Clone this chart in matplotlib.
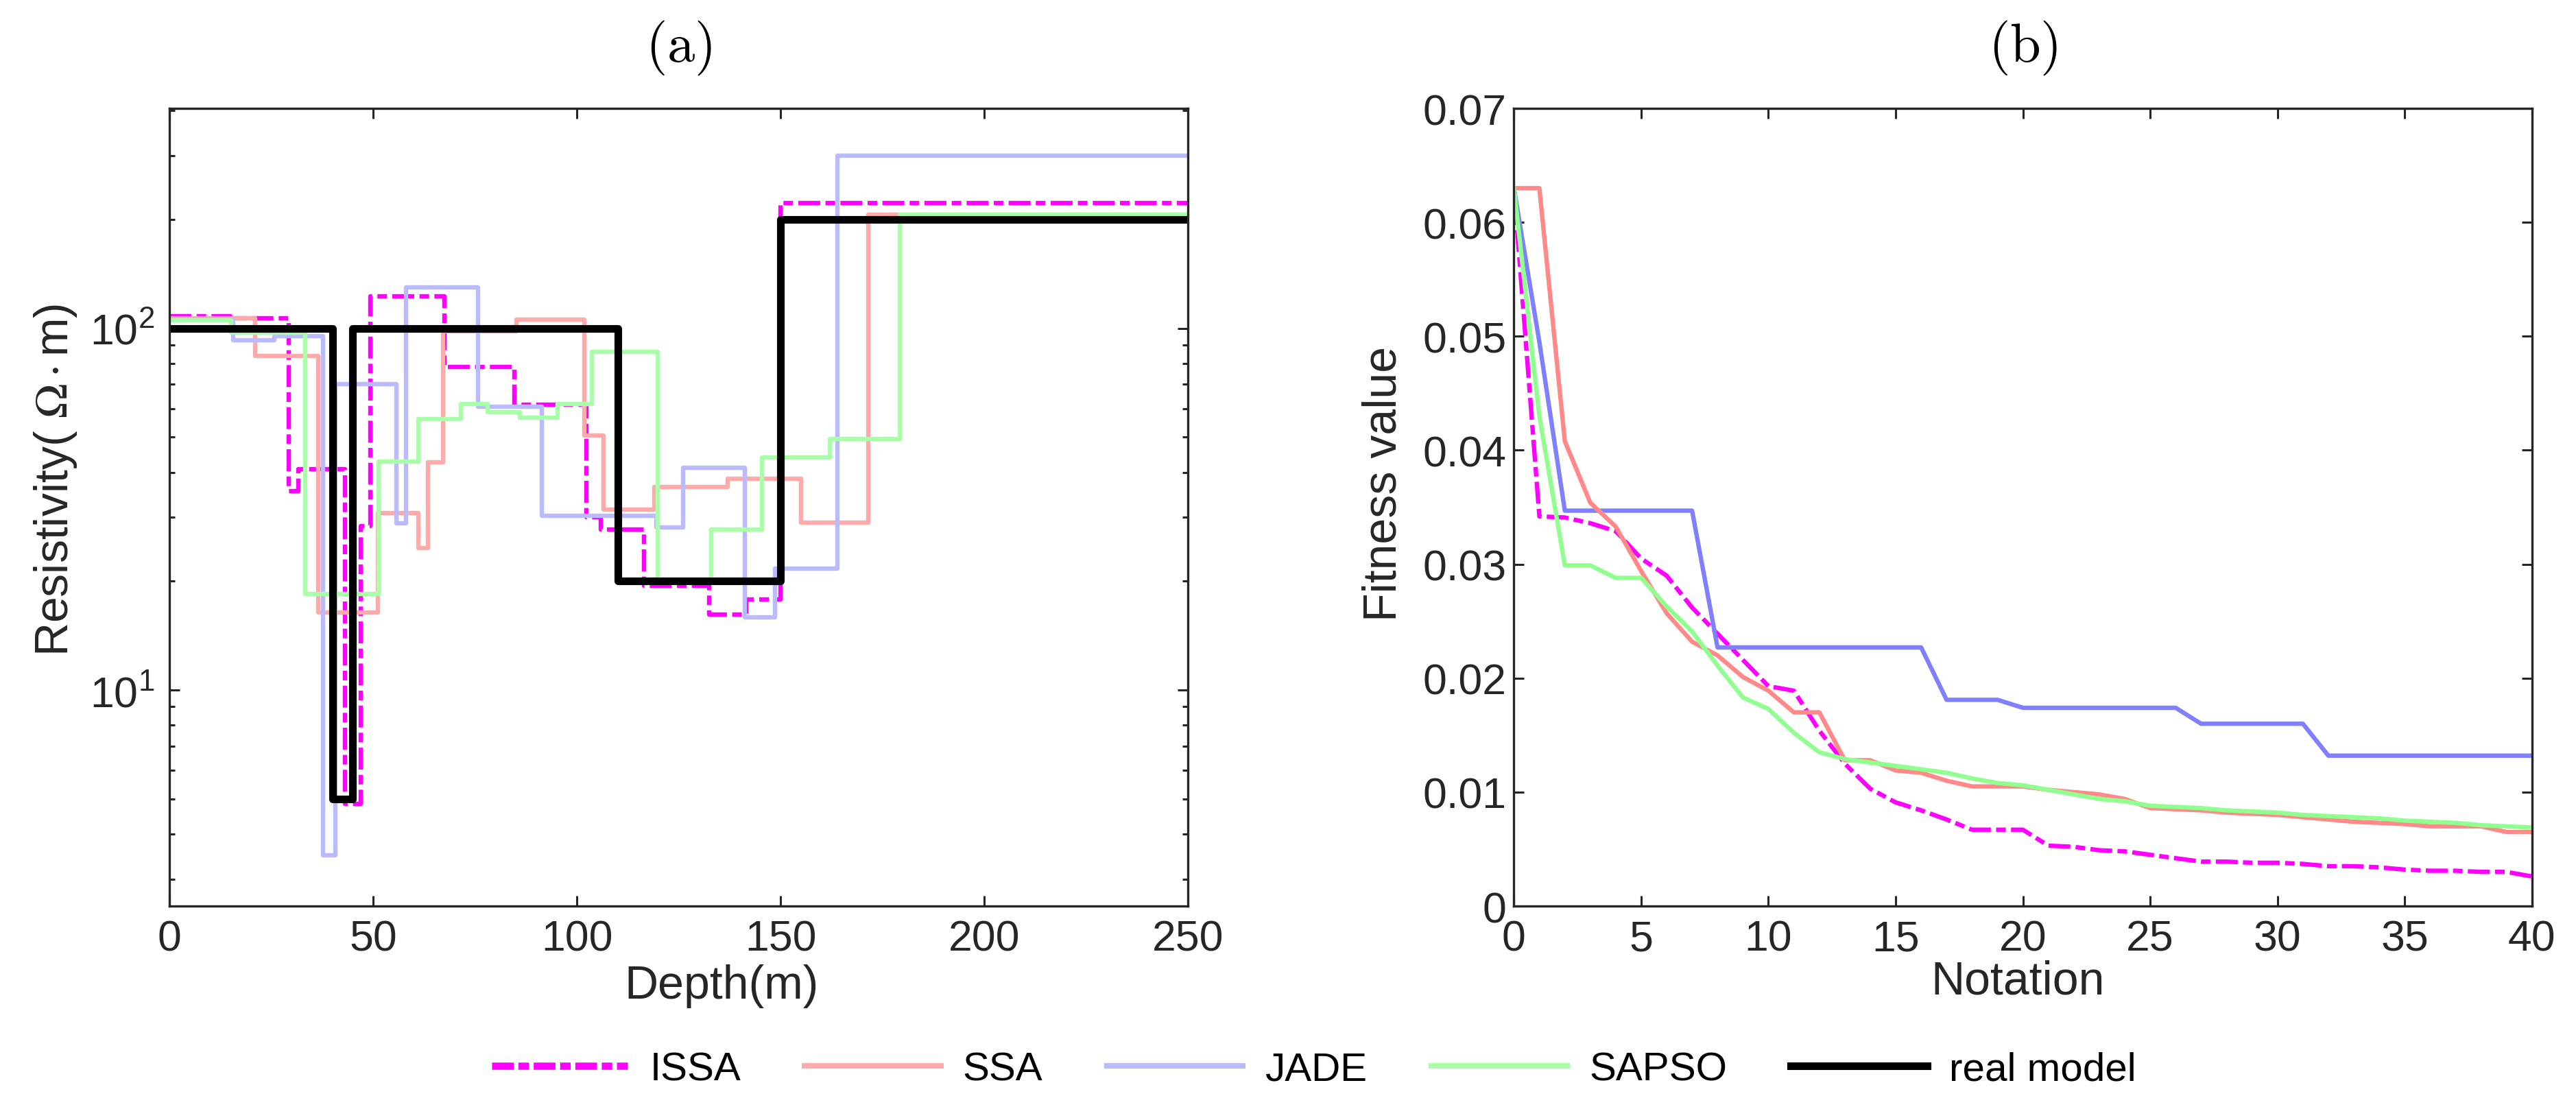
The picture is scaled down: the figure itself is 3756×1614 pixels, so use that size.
import matplotlib
matplotlib.use('Agg')
import matplotlib.pyplot as plt
from matplotlib.ticker import FixedLocator, FixedFormatter, NullFormatter, LogLocator

plt.rcParams['font.family'] = ['Liberation Sans', 'DejaVu Sans']
plt.rcParams['axes.unicode_minus'] = False

# ---------------- data: panel (a) layered models ----------------
issa_depth = [0, 15, 29.3, 31.6, 43, 47, 49.3, 67.5, 84.7, 102.3, 105.8, 116.5, 132.5, 141.5, 150, 250]
issa_rho = [108, 106.5, 35.5, 40.8, 4.85, 28.4, 122.5, 78, 61.5, 30, 27.8, 19.4, 16.2, 17.8, 222, 222]

ssa_depth = [0, 21, 36.5, 51.2, 61, 63.5, 67.2, 85.2, 101.8, 106.5, 119, 137, 155, 171.5, 250]
ssa_rho = [106.5, 83.7, 16.4, 30.8, 24.7, 42.6, 98, 105.5, 50.5, 31.6, 36.4, 38.4, 29.0, 206, 206]

jade_depth = [0, 15.6, 25.8, 37.7, 40.7, 55.7, 58, 75.7, 91.4, 119.5, 126, 141.2, 148.6, 164, 250]
jade_rho = [105.5, 92.8, 95, 3.5, 70.2, 28.9, 129.5, 60.8, 30.3, 28.1, 41.1, 15.9, 21.7, 300, 300]

sapso_depth = [0, 15.1, 33.3, 51.3, 61.1, 71.6, 78, 86, 95.3, 103.7, 119.8, 133, 145.5, 162, 179.2, 250]
sapso_rho = [105, 97.3, 18.4, 42.8, 56, 61.8, 58.7, 56.6, 61.7, 86.2, 20.2, 27.8, 44.0, 49.5, 206, 206]

real_depth = [0, 40, 45, 110, 150, 250]
real_rho = [100, 5, 100, 20, 200, 200]

# ---------------- data: panel (b) convergence curves ----------------
notation = list(range(0, 41))
issa_fit = [0.0630, 0.0342, 0.0341, 0.0336, 0.0329, 0.0305, 0.0290, 0.0262, 0.0239, 0.0216,
            0.0193, 0.0189, 0.0154, 0.0125, 0.0103, 0.0091, 0.0084, 0.0076, 0.0067, 0.0067,
            0.0067, 0.0053, 0.0052, 0.0049, 0.0048, 0.0045, 0.0042, 0.0039, 0.0039, 0.0038,
            0.0038, 0.0037, 0.0035, 0.0035, 0.0034, 0.0032, 0.0031, 0.0031, 0.0030, 0.0030,
            0.0026]
ssa_fit = [0.0630, 0.0630, 0.0408, 0.0354, 0.0333, 0.0294, 0.0257, 0.0232, 0.0220, 0.0201,
           0.0189, 0.0170, 0.0170, 0.0128, 0.0128, 0.0119, 0.0117, 0.0110, 0.0105, 0.0105,
           0.0105, 0.0102, 0.0100, 0.0098, 0.0094, 0.0086, 0.0085, 0.0084, 0.0082, 0.0081,
           0.0080, 0.0078, 0.0076, 0.0074, 0.0073, 0.0072, 0.0070, 0.0070, 0.0070, 0.0065,
           0.0065]
jade_fit = [0.0630, 0.0495, 0.0347, 0.0347, 0.0347, 0.0347, 0.0347, 0.0347, 0.0227, 0.0227,
            0.0227, 0.0227, 0.0227, 0.0227, 0.0227, 0.0227, 0.0227, 0.0181, 0.0181, 0.0181,
            0.0174, 0.0174, 0.0174, 0.0174, 0.0174, 0.0174, 0.0174, 0.0160, 0.0160, 0.0160,
            0.0160, 0.0160, 0.0132, 0.0132, 0.0132, 0.0132, 0.0132, 0.0132, 0.0132, 0.0132,
            0.0132]
sapso_fit = [0.0630, 0.0430, 0.0299, 0.0299, 0.0288, 0.0288, 0.0263, 0.0241, 0.0211, 0.0183,
             0.0173, 0.0152, 0.0135, 0.0129, 0.0126, 0.0123, 0.0120, 0.0117, 0.0112, 0.0108,
             0.0106, 0.0102, 0.0098, 0.0094, 0.0092, 0.0088, 0.0087, 0.0086, 0.0084, 0.0083,
             0.0082, 0.0080, 0.0079, 0.0078, 0.0077, 0.0075, 0.0074, 0.0073, 0.0071, 0.0070,
             0.0069]

labels = ['ISSA', 'SSA', 'JADE', 'SAPSO', 'real model']
xticks_a = [0, 50, 100, 150, 200, 250]
xticks_b = [0, 5, 10, 15, 20, 25, 30, 35, 40]
yticks_b = [0, 0.01, 0.02, 0.03, 0.04, 0.05, 0.06, 0.07]
yticklabels_b = ['0', '0.01', '0.02', '0.03', '0.04', '0.05', '0.06', '0.07']

# ---------------- styling ----------------
TXT = '#262626'
MAG = '#FF00FF'
dashdot = (0, (5.0, 1.2, 2.2, 1.2))
LW = 4.6

fig = plt.figure(figsize=(37.56, 16.15), dpi=100)
axa = fig.add_axes([0.0658, 0.1814, 0.3954, 0.7201])
axb = fig.add_axes([0.5877, 0.1814, 0.3952, 0.7201])

# panel (a)
h1, = axa.step(issa_depth, issa_rho, where='post', color=MAG, lw=LW, ls=dashdot)
h2, = axa.step(ssa_depth, ssa_rho, where='post', color='#FFAAAA', lw=LW)
h3, = axa.step(jade_depth, jade_rho, where='post', color='#BABAFF', lw=LW)
h4, = axa.step(sapso_depth, sapso_rho, where='post', color='#A8FFA8', lw=LW)
h5, = axa.step(real_depth, real_rho, where='post', color='black', lw=8)
axa.set_yscale('log')
axa.set_xlim(0, 250)
axa.set_ylim(2.53, 405)
axa.xaxis.set_major_locator(FixedLocator(xticks_a))
axa.yaxis.set_major_locator(LogLocator(base=10, numticks=10))
axa.yaxis.set_minor_locator(LogLocator(base=10, subs=(2, 3, 4, 5, 6, 7, 8, 9), numticks=20))
axa.yaxis.set_minor_formatter(NullFormatter())

# panel (b)
axb.plot(notation, issa_fit, color=MAG, lw=LW, ls=dashdot)
axb.plot(notation, jade_fit, color='#8080FF', lw=LW)
axb.plot(notation, ssa_fit, color='#FF8888', lw=LW)
axb.plot(notation, sapso_fit, color='#90FF90', lw=LW)
axb.set_xlim(0, 40)
axb.set_ylim(0, 0.07)
axb.xaxis.set_major_locator(FixedLocator(xticks_b))
axb.yaxis.set_major_locator(FixedLocator(yticks_b))
axb.yaxis.set_major_formatter(FixedFormatter(yticklabels_b))

for ax in (axa, axb):
    for sp in ax.spines.values():
        sp.set_linewidth(2.4)
        sp.set_color(TXT)
    ax.tick_params(which='both', direction='in', top=True, right=True,
                   colors=TXT, labelsize=45, width=2.2)
    ax.tick_params(which='major', length=11)
    ax.tick_params(which='minor', length=6)
    ax.tick_params(axis='x', pad=13)

axa.tick_params(axis='y', pad=16)
axb.tick_params(axis='y', pad=8)

axa.set_title(r'$\mathrm{(a)}$', fontsize=58, pad=50, color='black', math_fontfamily='cm')
axb.set_title(r'$\mathrm{(b)}$', fontsize=58, pad=50, color='black', math_fontfamily='cm')

axa.set_xlabel('Depth(m)', fontsize=49, color=TXT)
axb.set_xlabel('Notation', fontsize=49, color=TXT)
axa.xaxis.set_label_coords(0.542, -0.072)
axb.xaxis.set_label_coords(0.495, -0.067)

axa.set_ylabel(r'Resistivity( $\Omega\cdot$m)', fontsize=49, color=TXT, va='center',
               math_fontfamily='stix')
axb.set_ylabel('Fitness value', fontsize=49, color=TXT, va='center')
axa.yaxis.set_label_coords(-0.112, 0.535)
axb.yaxis.set_label_coords(-0.128, 0.53)

leg = fig.legend([h1, h2, h3, h4, h5], labels, loc='center', bbox_to_anchor=(0.51, 0.034),
                 ncol=5, frameon=False, fontsize=42, handlelength=3.4, handletextpad=0.55,
                 columnspacing=1.6, borderpad=0)
leg_lines = leg.get_lines()
leg_lines[0].set_linewidth(7.6)
leg_lines[0].set_dashes((3.0, 0.65, 1.45, 0.65))
for ln in leg_lines[1:4]:
    ln.set_linewidth(5.8)
leg_lines[4].set_linewidth(8)

fig.savefig('out.png', dpi=100)
